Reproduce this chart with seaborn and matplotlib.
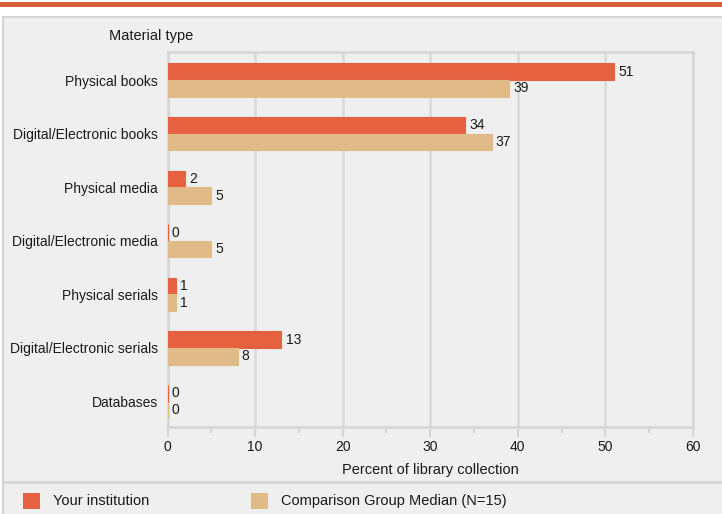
import matplotlib
matplotlib.use("Agg")
import matplotlib.pyplot as plt
from matplotlib.patches import Rectangle
from matplotlib.lines import Line2D
from matplotlib.ticker import MultipleLocator
import seaborn as sns
import pandas as pd

# Collection mix by material type (percent of library collection)
categories = [
    "Physical books",
    "Digital/Electronic books",
    "Physical media",
    "Digital/Electronic media",
    "Physical serials",
    "Digital/Electronic serials",
    "Databases",
]
series_names = ["Your institution", "Comparison Group Median (N=15)"]
your_institution = [51, 34, 2, 0, 1, 13, 0]
comparison_median = [39, 37, 5, 5, 1, 8, 0]
x_ticks = [0, 10, 20, 30, 40, 50, 60]

ORANGE = "#e56140"
TAN = "#e0bb88"
PANEL = "#efefef"
RULE = "#d5d5d5"
TEXT = "#1a1a1a"

df = pd.DataFrame({
    "Material type": categories * 2,
    "Percent": your_institution + comparison_median,
    "Series": [series_names[0]] * len(categories) + [series_names[1]] * len(categories),
})

sns.set_theme(style="white")
plt.rcParams["font.family"] = ["Liberation Sans", "DejaVu Sans"]
plt.rcParams["text.color"] = TEXT

W, H = 722, 514
fig = plt.figure(figsize=(W / 100, H / 100), dpi=100)
fig.patch.set_facecolor("white")


def fx(px):
    return px / W


def fy(py):
    return 1 - py / H


# Header stripe and grey panel, kept behind the axes
fig.patches.append(Rectangle((0, fy(7)), 1, fy(2) - fy(7), transform=fig.transFigure,
                             facecolor="#d95f3b", edgecolor="none", zorder=-5))
fig.patches.append(Rectangle((fx(3), -0.01), 1, fy(17) + 0.01, transform=fig.transFigure,
                             facecolor=PANEL, edgecolor=RULE, linewidth=1.5, zorder=-5))
fig.lines.append(Line2D([fx(3), 1], [fy(482), fy(482)], transform=fig.transFigure,
                        color=RULE, linewidth=2, zorder=-4))

left, right, top, bottom = 167.5, 693, 51.7, 426.7
ax = fig.add_axes([fx(left), fy(bottom), fx(right) - fx(left), fy(top) - fy(bottom)])
ax.set_facecolor(PANEL)

sns.barplot(data=df, y="Material type", x="Percent", hue="Series", orient="h",
            palette=[ORANGE, TAN], width=0.62, gap=0, dodge=True, ax=ax,
            legend=False, saturation=1, err_kws={"linewidth": 0}, zorder=3)

for container, color in zip(ax.containers, [ORANGE, TAN]):
    for bar in container:
        bar.set_edgecolor(color)
        bar.set_linewidth(0.8)
    ax.bar_label(container, fmt="%d", padding=3, fontsize=10, color=TEXT)

ax.set_xlim(0, 60)
ax.set_ylim(len(categories) - 0.53, -0.53)
ax.set_xticks(x_ticks)
ax.xaxis.set_minor_locator(MultipleLocator(5))
ax.grid(axis="x", which="major", color="#d9d9d9", linewidth=1.8, zorder=0)
ax.set_axisbelow(True)

for side in ["left", "top", "right", "bottom"]:
    ax.spines[side].set_visible(True)
    ax.spines[side].set_color(RULE)
    ax.spines[side].set_linewidth(1.8)

ax.tick_params(axis="x", which="major", bottom=True, length=7, width=1.5, color=RULE,
               labelsize=10, labelcolor=TEXT, pad=2.4)
ax.tick_params(axis="x", which="minor", bottom=True, length=4, width=1.5, color=RULE)
ax.tick_params(axis="y", left=False, length=0, labelsize=10, labelcolor=TEXT, pad=7)

ax.set_ylabel("")
ax.set_xlabel("Percent of library collection", fontsize=10.5, color=TEXT, labelpad=6.5)
fig.text(fx(109), fy(36), "Material type", fontsize=10.5, color=TEXT, va="center", ha="left")

# Legend row
for x0, color, label in [(23, ORANGE, series_names[0]), (251, TAN, series_names[1])]:
    fig.patches.append(Rectangle((fx(x0), fy(509)), fx(17), fy(493) - fy(509),
                                 transform=fig.transFigure, facecolor=color,
                                 edgecolor="none", zorder=2))
    fig.text(fx(x0 + 30), fy(501), label, fontsize=10.5, color=TEXT, va="center", ha="left")

fig.savefig("out.png", dpi=100, facecolor=fig.get_facecolor())
